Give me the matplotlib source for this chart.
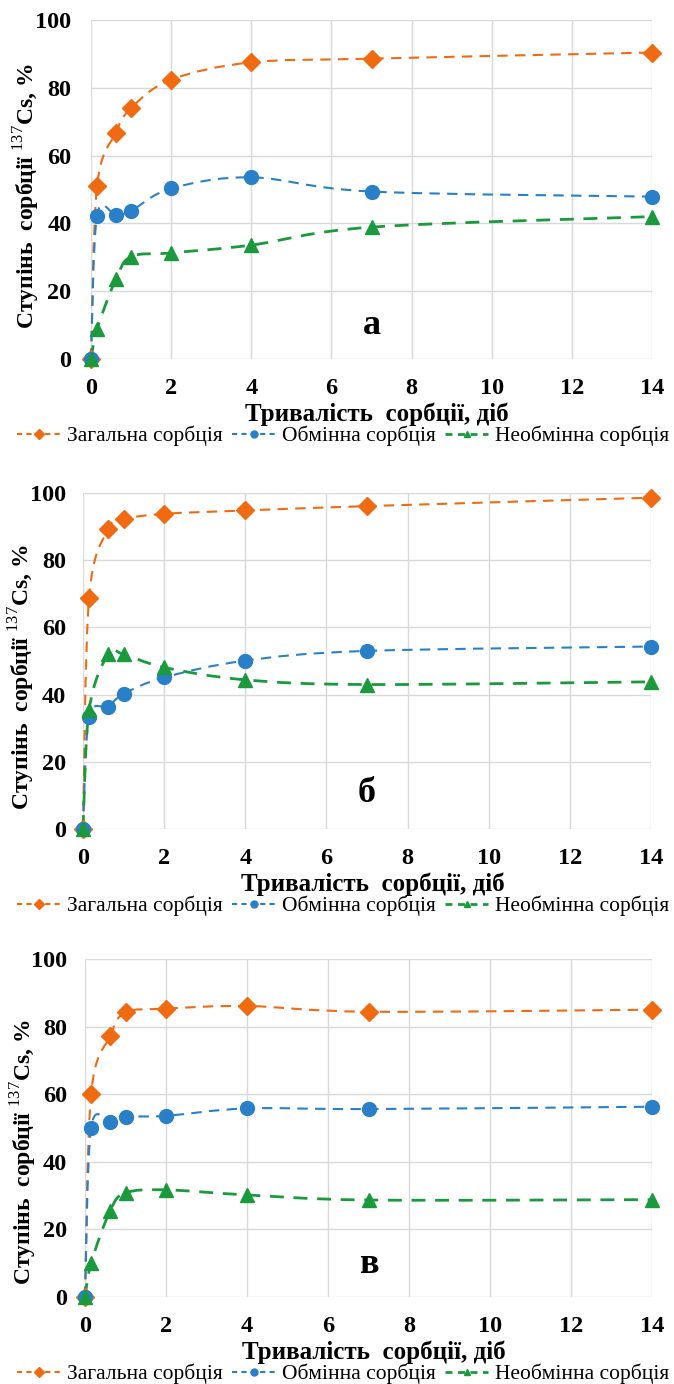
import matplotlib
matplotlib.use("Agg")
import matplotlib.pyplot as plt
from matplotlib.path import Path
from matplotlib.patches import PathPatch
from matplotlib.lines import Line2D
import numpy as np

plt.rcParams['font.family'] = ['Liberation Serif', 'DejaVu Serif']
plt.rcParams['mathtext.fontset'] = 'custom'
plt.rcParams['mathtext.rm'] = 'Liberation Serif'

# time of sorption, days
days = [0, 0.15, 0.62, 1, 2, 4, 7, 14]

# panel а
total_a = [0, 51.0, 66.8, 74.0, 82.4, 87.5, 88.6, 90.4]
exch_a = [0, 42.3, 42.5, 43.7, 50.3, 53.6, 49.4, 47.9]
nonexch_a = [0, 8.8, 23.5, 30.2, 31.3, 33.6, 38.9, 42.0]

# panel б
total_b = [0, 68.8, 89.2, 92.2, 93.8, 94.8, 96.1, 98.6]
exch_b = [0, 33.2, 36.4, 40.2, 45.1, 50.1, 53.0, 54.3]
nonexch_b = [0, 35.4, 52.1, 52.0, 48.1, 44.4, 43.0, 43.8]

# panel в
total_c = [0, 60.1, 77.2, 84.2, 85.3, 86.1, 84.4, 85.0]
exch_c = [0, 49.9, 51.7, 53.3, 53.6, 55.8, 55.6, 56.3]
nonexch_c = [0, 10.0, 25.5, 30.8, 31.7, 30.2, 28.7, 28.8]

series_names = ['Загальна сорбція', 'Обмінна сорбція', 'Необмінна сорбція']
panel_letters = ['а', 'б', 'в']
x_ticks = [0, 2, 4, 6, 8, 10, 12, 14]
y_ticks = [0, 20, 40, 60, 80, 100]

colors = ['#F06A12', '#2A80C8', '#1A9A3C']
markers = ['D', 'o', '^']
msizes = [9.5, 10, 10.5]
lwidths = [1.5, 1.5, 2.0]

panels = [
    (total_a, exch_a, nonexch_a),
    (total_b, exch_b, nonexch_b),
    (total_c, exch_c, nonexch_c),
]
# axes boxes in pixels: left, right, top, bottom
boxes = [(91, 652, 20, 359), (83, 651, 493, 829), (85, 652, 959, 1297)]
label_y = [10, 10.7, 9.5]
ylab_shift = [7, 16, 24]
ylab_x = [12, 7, 9]
ytick_pad = [14, 12, 13]

W, H = 674, 1384


def smooth_path(x, y):
    # Excel-style smoothed line: cubic Bezier through every point
    p = np.column_stack([x, y]).astype(float)
    n = len(p)
    verts = [p[0]]
    codes = [Path.MOVETO]
    for i in range(n - 1):
        prev = p[i - 1] if i > 0 else p[i]
        nxt = p[i + 2] if i + 2 < n else p[i + 1]
        c1 = p[i] + (p[i + 1] - prev) / 6
        c2 = p[i + 1] - (nxt - p[i]) / 6
        verts += [c1, c2, p[i + 1]]
        codes += [Path.CURVE4] * 3
    return Path(verts, codes)


fig = plt.figure(figsize=(W / 100, H / 100), dpi=100)

for k, (data, box) in enumerate(zip(panels, boxes)):
    l, r, t, b = box
    w, h = r - l, b - t
    ax = fig.add_axes([l / W, (H - b) / H, w / W, h / H])
    ax.set_xlim(0, 14)
    ax.set_ylim(0, 100)
    ax.set_xticks(x_ticks)
    ax.set_yticks(y_ticks)
    ax.grid(True, color='#D9D9D9', linewidth=1.0)
    ax.set_axisbelow(True)
    for s in ax.spines.values():
        s.set_visible(False)
    ax.tick_params(axis='x', length=0, labelsize=17.5, pad=14)
    ax.tick_params(axis='y', length=0, labelsize=17.5, pad=ytick_pad[k])
    for lab in ax.get_xticklabels() + ax.get_yticklabels():
        lab.set_fontweight('bold')

    for vals, c, m, ms, lw in zip(data, colors, markers, msizes, lwidths):
        patch = PathPatch(smooth_path(days, vals), fill=False, edgecolor=c,
                          linewidth=lw, linestyle=(0, (5, 3.5)), clip_on=False)
        ax.add_patch(patch)
        ax.plot(days, vals, linestyle='none', marker=m, markersize=ms,
                color=c, clip_on=False, zorder=3)

    ax.set_xlabel('Тривалість  сорбції, діб', fontsize=18, fontweight='bold')
    ax.xaxis.set_label_coords(0.51, -44 / h)
    ax.set_ylabel('Ступінь  сорбції $^{137}$Cs, %', fontsize=17,
                  fontweight='bold')
    ax.yaxis.set_label_coords(-(l - ylab_x[k]) / w, 0.5 - ylab_shift[k] / h)
    ax.yaxis.label.set_va('top')
    ax.text(7, label_y[k], panel_letters[k], fontsize=26, fontweight='bold',
            ha='center', va='center')

    handles = [Line2D([], [], color=c, linestyle=(0, (2.5, 2)), linewidth=lw,
                      marker=m, markersize=5)
               for c, m, lw in zip(colors, markers, lwidths)]
    fig.legend(handles, series_names, loc='center',
               bbox_to_anchor=(343 / W, (H - b - 77) / H), ncol=3,
               frameon=False, fontsize=15.5, handlelength=2.0,
               handletextpad=0.3, columnspacing=0.45, borderaxespad=0)

fig.savefig('out.png', dpi=100)
